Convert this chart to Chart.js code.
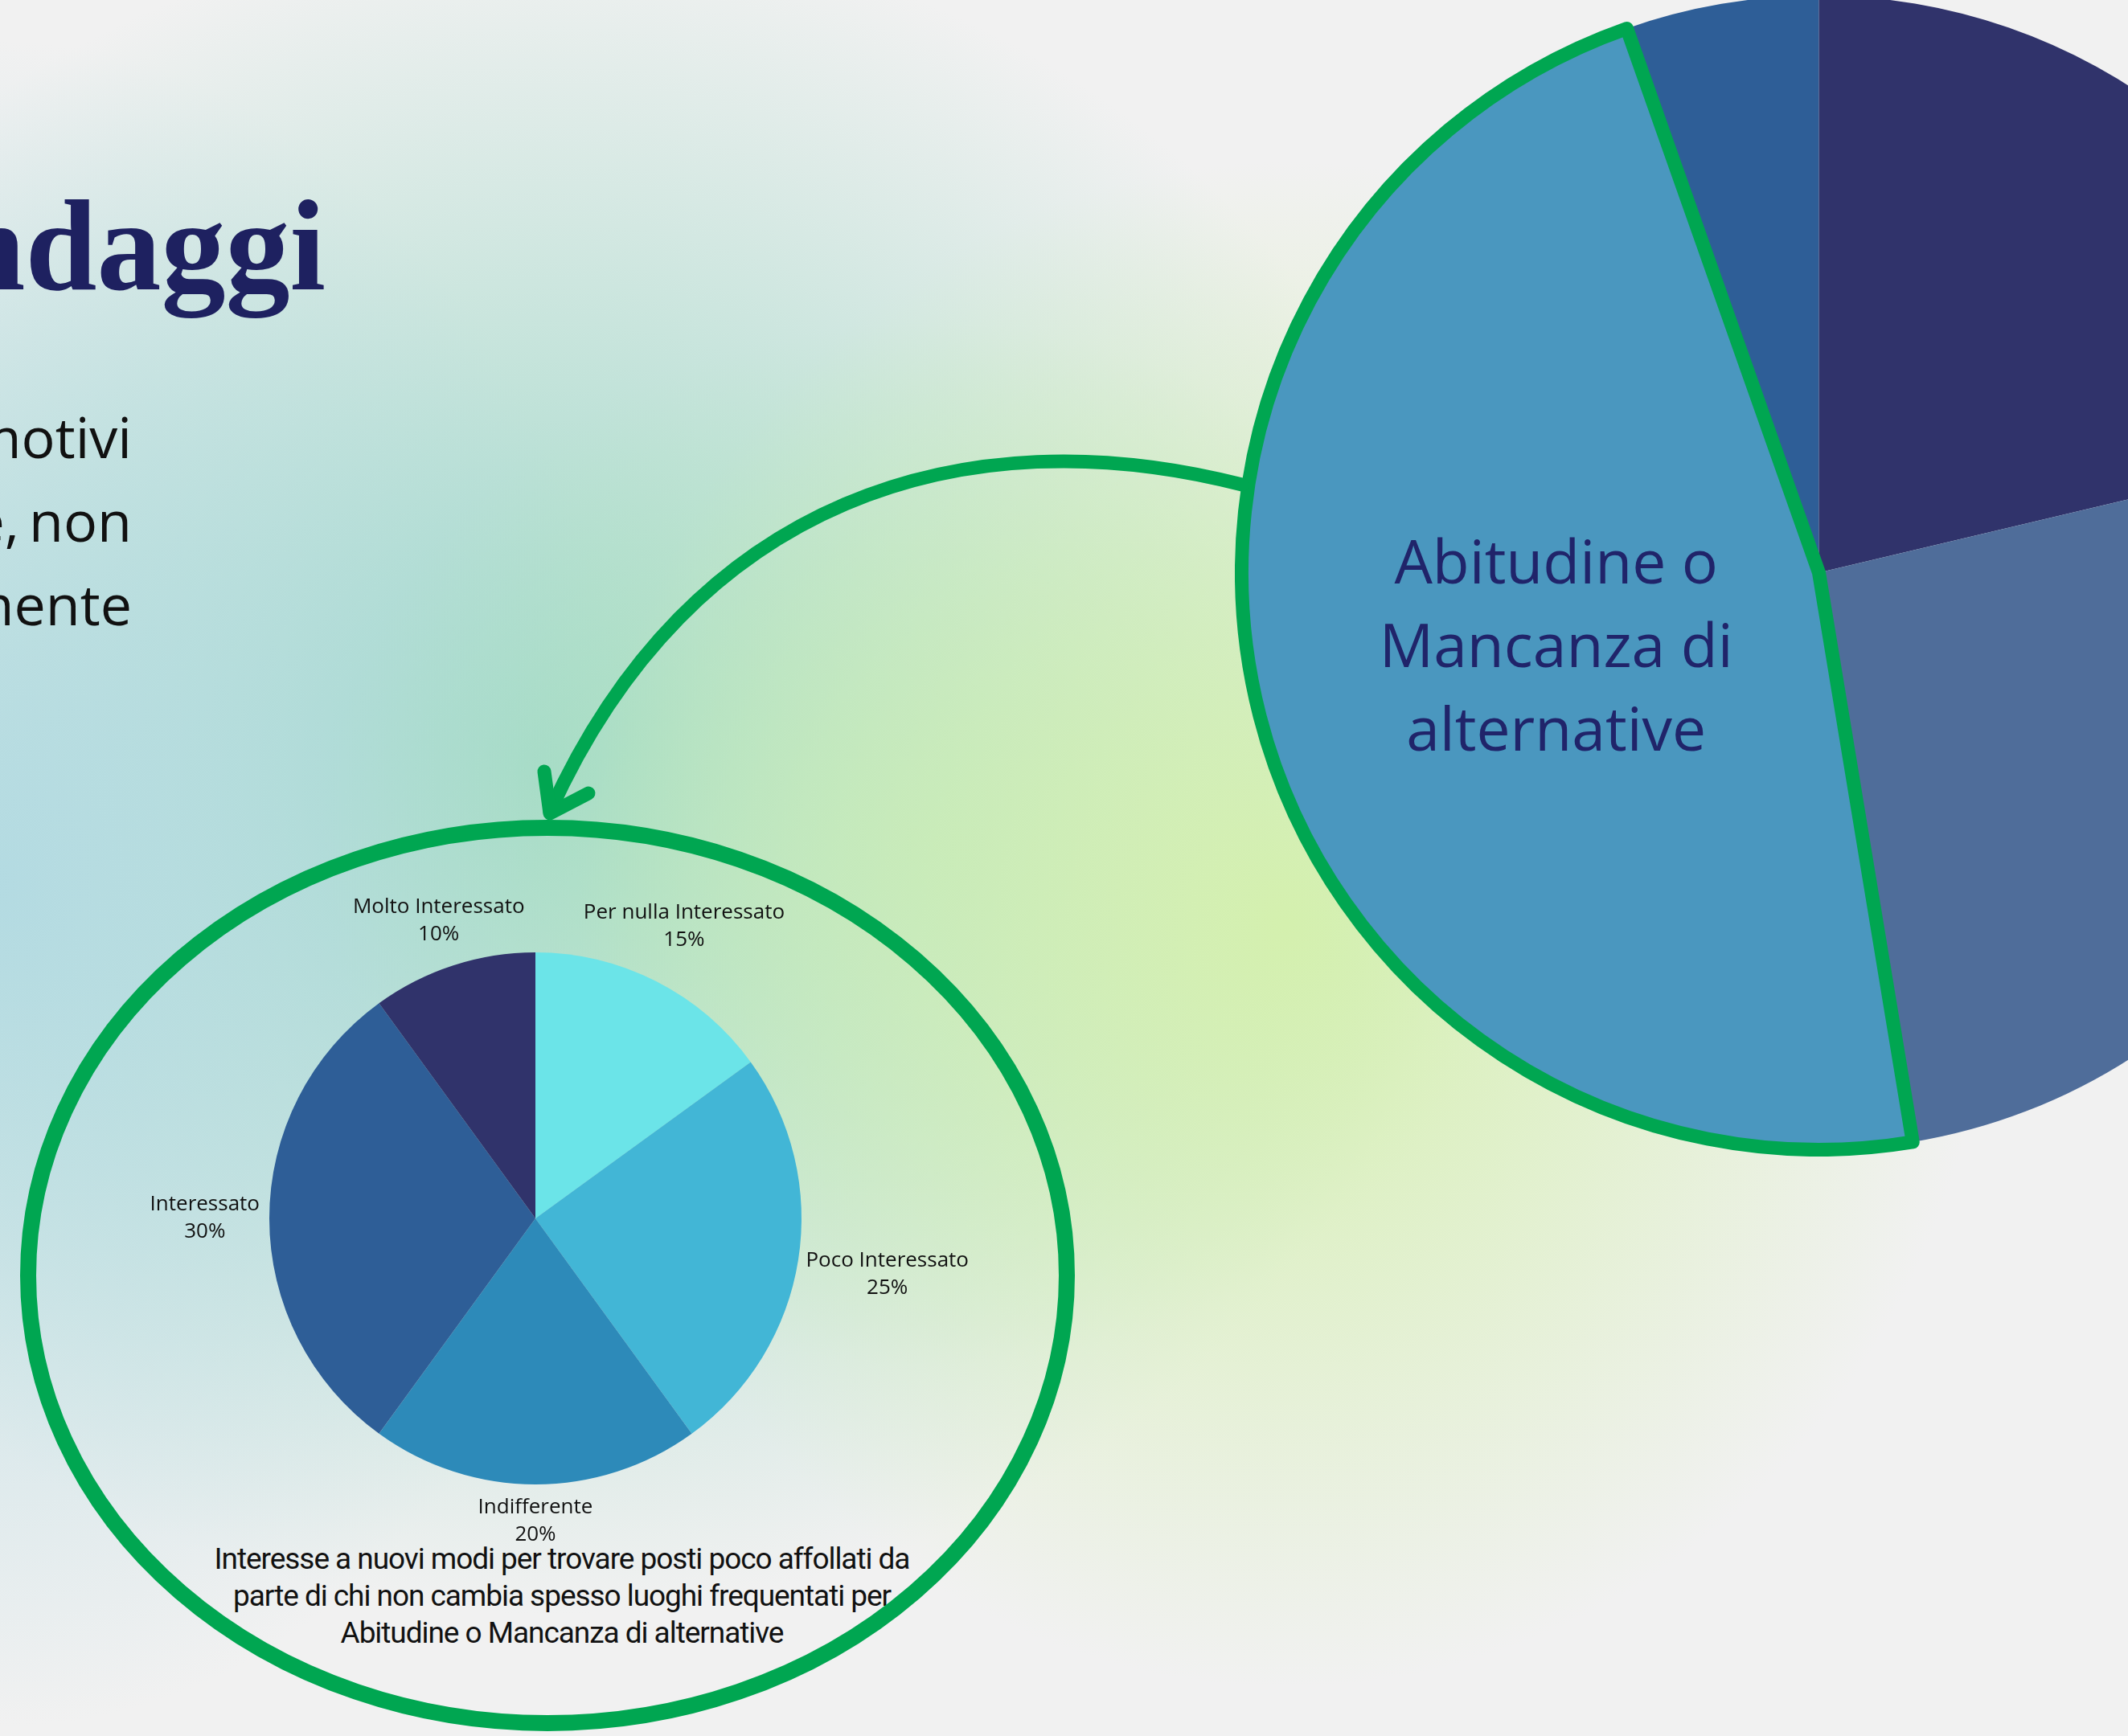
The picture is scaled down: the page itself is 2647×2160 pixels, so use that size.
<!DOCTYPE html>
<html>
<head>
<meta charset="utf-8">
<script src="https://cdn.jsdelivr.net/npm/chart.js@4.4.1/dist/chart.umd.min.js"></script>
<style>
  html, body { margin: 0; padding: 0; }
  body {
    width: 2647px; height: 2160px; overflow: hidden; position: relative;
    background:
      radial-gradient(ellipse 880px 950px at 1600px 1150px, rgba(212,240,174,1) 0%, rgba(212,240,174,0) 100%),
      radial-gradient(ellipse 750px 650px at 1150px 1050px, rgba(190,232,190,0.8) 0%, rgba(190,232,190,0) 100%),
      radial-gradient(ellipse 800px 1050px at 0px 1100px, rgba(178,218,226,0.95) 0%, rgba(178,218,226,0) 100%),
      radial-gradient(ellipse 1150px 1050px at 680px 960px, rgba(155,215,198,1) 0%, rgba(155,215,198,0) 100%),
      #f1f1f1;
  }
  .title { position: absolute; right: 2242px; top: 226px; font: bold 160px/160px "Liberation Serif"; color: #1e2160; white-space: nowrap; }
  .body { position: absolute; right: 2483px; top: 491px; font: 70px/104px "Open Sans"; color: #111; text-align: right; white-space: nowrap; word-spacing: -6px; }
  .body4 { position: absolute; right: 2645px; top: 803px; font: 70px/104px "Open Sans"; color: #111; white-space: nowrap; }
  .caption { position: absolute; left: 699px; top: 1917px; transform: translateX(-50%); font: 37px/46px Roboto; letter-spacing: -1.05px; color: #111; text-align: center; white-space: nowrap; }
  canvas { position: absolute; }
  #bigPie { left: 1536px; top: -14px; }
  #smallPie { left: 66px; top: 1016px; }
  #deco { left: 0; top: 0; z-index: 3; pointer-events: none; }
</style>
</head>
<body>
<div class="title">Sondaggi</div>
<div class="body">motivi<br>e, non<br>mente</div>
<div class="body4">e</div>
<div class="caption">Interesse a nuovi modi per trovare posti poco affollati da<br>parte di chi non cambia spesso luoghi frequentati per<br>Abitudine o Mancanza di alternative</div>

<canvas id="bigPie" width="1453" height="1453"></canvas>
<canvas id="smallPie" width="1200" height="1000"></canvas>
<canvas id="deco" width="2647" height="2160"></canvas>

<script>
// ---- dati: torta piccola (interesse) ----
const smallLabels = ["Per nulla Interessato", "Poco Interessato", "Indifferente", "Interessato", "Molto Interessato"];
const smallValues = [15, 25, 20, 30, 10];
const smallColors = ["#6be4e8", "#42b6d6", "#2d8ab9", "#2e5e97", "#30336b"];

// ---- dati: torta grande (motivi), parte visibile ----
const bigLabels = ["Motivo 4", "Motivo 1", "Motivo 2", "Abitudine o Mancanza di alternative"];
const bigValues = [5.4, 21.3, 26.1, 47.2];
const bigColors = ["#2e5e97", "#30336b", "#4f6d9a", "#4a97bf"];
const bigSliceLines = ["Abitudine o", "Mancanza di", "alternative"];
const hlIndex = 3;

const GREEN = "#00a651";

// etichette esterne con nome + percentuale
const outLabels = {
  id: "outLabels",
  afterDatasetsDraw(chart) {
    const ctx = chart.ctx;
    const meta = chart.getDatasetMeta(0);
    const data = chart.data.datasets[0].data;
    const total = data.reduce((a, b) => a + b, 0);
    const lh = 34;
    ctx.save();
    ctx.font = "26px 'Open Sans'";
    ctx.fillStyle = "#111";
    ctx.textAlign = "center";
    ctx.textBaseline = "middle";
    meta.data.forEach((arc, i) => {
      const p = arc.getProps(["x", "y", "startAngle", "endAngle", "outerRadius"], true);
      const mid = (p.startAngle + p.endAngle) / 2;
      const l1 = chart.data.labels[i];
      const l2 = Math.round(data[i] / total * 100) + "%";
      const w = Math.max(ctx.measureText(l1).width, ctx.measureText(l2).width);
      const c = Math.cos(mid), s = Math.sin(mid);
      const d = p.outerRadius + 12 + Math.hypot(c * w / 2, s * lh);
      const x = p.x + c * d, y = p.y + s * d;
      ctx.fillText(l1, x, y - lh / 2);
      ctx.fillText(l2, x, y + lh / 2);
    });
    ctx.restore();
  }
};

// testo dentro la fetta evidenziata
const sliceText = {
  id: "sliceText",
  afterDatasetsDraw(chart) {
    const ctx = chart.ctx;
    const arc = chart.getDatasetMeta(0).data[hlIndex];
    const p = arc.getProps(["x", "y", "startAngle", "endAngle", "outerRadius"], true);
    const mid = (p.startAngle + p.endAngle) / 2;
    const r = p.outerRadius * 0.47;
    const x = p.x + Math.cos(mid) * r, y = p.y + Math.sin(mid) * r + 12;
    ctx.save();
    ctx.font = "75px 'Open Sans'";
    ctx.fillStyle = "#20246a";
    ctx.textAlign = "center";
    ctx.textBaseline = "middle";
    bigSliceLines.forEach((t, k) => ctx.fillText(t, x, y + (k - 1) * 104));
    ctx.restore();
  }
};

const bigTotal = bigValues.reduce((a, b) => a + b, 0);

new Chart(document.getElementById("bigPie"), {
  type: "pie",
  data: {
    labels: bigLabels,
    datasets: [{
      data: bigValues,
      backgroundColor: bigColors,
      borderColor: bigValues.map((v, i) => i === hlIndex ? GREEN : "rgba(0,0,0,0)"),
      borderWidth: bigValues.map((v, i) => i === hlIndex ? 17 : 0),
      borderJoinStyle: "round"
    }]
  },
  options: {
    responsive: false,
    animation: false,
    events: [],
    rotation: -360 * bigValues[0] / bigTotal,
    layout: { padding: 0 },
    plugins: { legend: { display: false }, tooltip: { enabled: false } }
  },
  plugins: [sliceText]
});

new Chart(document.getElementById("smallPie"), {
  type: "pie",
  data: {
    labels: smallLabels,
    datasets: [{
      data: smallValues,
      backgroundColor: smallColors,
      borderWidth: 0
    }]
  },
  options: {
    responsive: false,
    animation: false,
    events: [],
    layout: { padding: { left: 269, right: 269, top: 169, bottom: 169 } },
    plugins: { legend: { display: false }, tooltip: { enabled: false } }
  },
  plugins: [outLabels]
});

// ---- decorazioni: ellisse e freccia ----
const dc = document.getElementById("deco").getContext("2d");
dc.strokeStyle = GREEN;
dc.lineCap = "round";
dc.lineJoin = "round";

dc.lineWidth = 20;
dc.beginPath();
dc.ellipse(681, 1587, 646, 557, 0, 0, Math.PI * 2);
dc.stroke();

dc.lineWidth = 17;
dc.beginPath();
dc.moveTo(1545, 603);
dc.bezierCurveTo(1200, 515, 860, 620, 684, 1010);
dc.stroke();

dc.beginPath();
dc.moveTo(677, 960);
dc.lineTo(684, 1012);
dc.lineTo(732, 987);
dc.stroke();
</script>
</body>
</html>
